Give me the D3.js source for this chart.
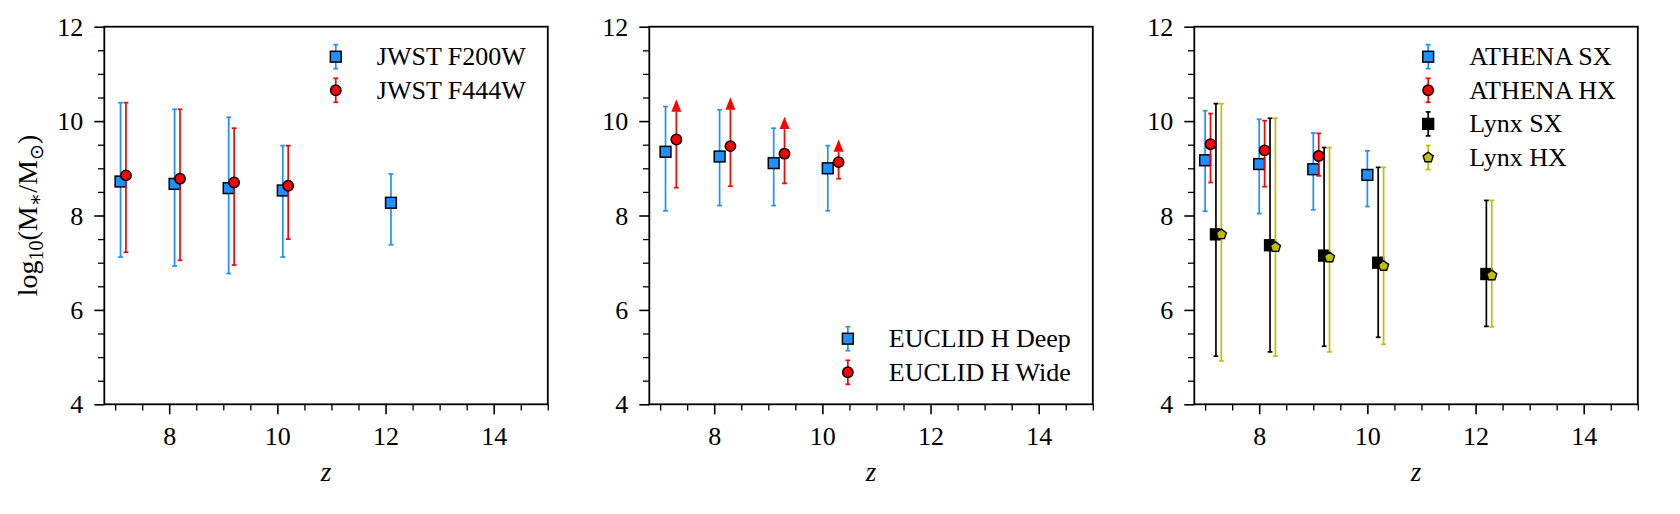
<!DOCTYPE html>
<html>
<head>
<meta charset="utf-8">
<script src="https://cdn.jsdelivr.net/npm/d3@7"></script>
<style>
  body { margin: 0; background: #fff; }
  svg { display: block; }
  text { font-family: "Liberation Serif", "DejaVu Serif", serif; fill: #000; }
</style>
</head>
<body>
<svg id="chart" width="1680" height="514"></svg>
<script>
// ---- data ----
// panel 1: JWST
const f200wZ  = [7.1, 8.1, 9.1, 10.1, 12.1];
const f200wM  = [8.72, 8.67, 8.58, 8.53, 8.27];
const f200wLo = [7.12, 6.93, 6.77, 7.12, 7.38];
const f200wHi = [10.39, 10.25, 10.08, 9.48, 8.88];

const f444wZ  = [7.2, 8.2, 9.2, 10.2];
const f444wM  = [8.85, 8.78, 8.70, 8.63];
const f444wLo = [7.22, 7.05, 6.95, 7.50];
const f444wHi = [10.39, 10.25, 9.85, 9.48];

// panel 2: EUCLID (wide points are lower limits)
const deepZ  = [7.1, 8.1, 9.1, 10.1];
const deepM  = [9.35, 9.25, 9.11, 9.00];
const deepLo = [8.10, 8.21, 8.21, 8.10];
const deepHi = [10.31, 10.24, 9.85, 9.48];

const wideZ  = [7.3, 8.3, 9.3, 10.3];
const wideM  = [9.61, 9.47, 9.31, 9.13];
const wideLo = [8.59, 8.62, 8.68, 8.78];
const wideHi = [10.20, 10.24, 9.83, 9.35];

// panel 3: ATHENA / Lynx
const athSxZ  = [7.0, 8.0, 9.0, 10.0];
const athSxM  = [9.17, 9.09, 8.98, 8.86];
const athSxLo = [8.09, 8.04, 8.12, 8.19];
const athSxHi = [10.22, 10.04, 9.75, 9.37];

const athHxZ  = [7.1, 8.1, 9.1];
const athHxM  = [9.51, 9.38, 9.26];
const athHxLo = [8.70, 8.61, 8.84];
const athHxHi = [10.16, 10.01, 9.74];

const lynxSxZ  = [7.2, 8.2, 9.2, 10.2, 12.2];
const lynxSxM  = [7.60, 7.37, 7.15, 7.00, 6.76];
const lynxSxLo = [5.02, 5.11, 5.23, 5.42, 5.65];
const lynxSxHi = [10.37, 10.06, 9.44, 9.02, 8.32];

const lynxHxZ  = [7.3, 8.3, 9.3, 10.3, 12.3];
const lynxHxM  = [7.60, 7.33, 7.11, 6.93, 6.73];
const lynxHxLo = [4.92, 5.02, 5.11, 5.27, 5.64];
const lynxHxHi = [10.37, 10.06, 9.44, 9.02, 8.32];

const xMajor = [8, 10, 12, 14];
const yMajor = [4, 6, 8, 10, 12];
const xLim = [6.8, 15];
const yLim = [4, 12];

// ---- layout ----
const BLUE = "#1e90ff", RED = "#ff0000", BLACK = "#000000", YEL = "#bfbf00";
const FS = 26;
const panelLefts = [104.3, 649.3, 1194.3];
const panelW = 443.5;
const plotTop = 26.7, plotBottom = 404.3;

function series(name, z, m, lo, hi, color, marker, lolim) {
  return { name, color, marker, lolim: !!lolim,
    pts: z.map((d, i) => ({ z: d, m: m[i], lo: lo[i], hi: hi[i] })) };
}

const panels = [
  { legend: "top", series: [
      series("JWST F200W", f200wZ, f200wM, f200wLo, f200wHi, BLUE, "square"),
      series("JWST F444W", f444wZ, f444wM, f444wLo, f444wHi, RED, "circle") ] },
  { legend: "bottom", series: [
      series("EUCLID H Deep", deepZ, deepM, deepLo, deepHi, BLUE, "square"),
      series("EUCLID H Wide", wideZ, wideM, wideLo, wideHi, RED, "circle", true) ] },
  { legend: "top", series: [
      series("ATHENA SX", athSxZ, athSxM, athSxLo, athSxHi, BLUE, "square"),
      series("ATHENA HX", athHxZ, athHxM, athHxLo, athHxHi, RED, "circle"),
      series("Lynx SX", lynxSxZ, lynxSxM, lynxSxLo, lynxSxHi, BLACK, "square"),
      series("Lynx HX", lynxHxZ, lynxHxM, lynxHxLo, lynxHxHi, YEL, "pentagon") ] }
];

const svg = d3.select("#chart");
svg.append("rect").attr("width", 1680).attr("height", 514).attr("fill", "#fff");

function drawMarker(g, type, cx, cy, color) {
  if (type === "square") {
    g.append("rect").attr("x", cx - 5.4).attr("y", cy - 5.4)
      .attr("width", 10.8).attr("height", 10.8)
      .attr("fill", color).attr("stroke", "#000").attr("stroke-width", 1.5);
  } else if (type === "circle") {
    g.append("circle").attr("cx", cx).attr("cy", cy).attr("r", 5.2)
      .attr("fill", color).attr("stroke", "#000").attr("stroke-width", 1.5);
  } else {
    const R = 5.3;
    const pts = d3.range(5).map(k => {
      const a = (-90 + k * 72) * Math.PI / 180;
      return [cx + R * Math.cos(a), cy + R * Math.sin(a)];
    });
    g.append("polygon").attr("points", pts.map(p => p.join(",")).join(" "))
      .attr("fill", color).attr("stroke", "#000").attr("stroke-width", 1.4);
  }
}

function drawBar(g, cx, y0, y1, color, capTop, capBottom) {
  g.append("line").attr("x1", cx).attr("x2", cx).attr("y1", y0).attr("y2", y1)
    .attr("stroke", color).attr("stroke-width", 1.7);
  const cap = y => g.append("line").attr("x1", cx - 2.4).attr("x2", cx + 2.4)
    .attr("y1", y).attr("y2", y).attr("stroke", color).attr("stroke-width", 1.7);
  if (capTop) cap(y0);
  if (capBottom) cap(y1);
}

panels.forEach((p, pi) => {
  const left = panelLefts[pi], right = left + panelW;
  const x = d3.scaleLinear().domain(xLim).range([left, right]);
  const y = d3.scaleLinear().domain(yLim).range([plotBottom, plotTop]);
  const g = svg.append("g");

  // minor ticks
  const xMinor = d3.range(7, 15.01, 0.5).filter(v => !xMajor.includes(v));
  const yMinor = d3.range(4.5, 12, 0.5).filter(v => !yMajor.includes(v));

  const xAxisMinor = g.append("g").attr("transform", `translate(0,${plotBottom})`)
    .call(d3.axisBottom(x).tickValues(xMinor).tickSize(6.3).tickFormat(""));
  const yAxisMinor = g.append("g").attr("transform", `translate(${left},0)`)
    .call(d3.axisLeft(y).tickValues(yMinor).tickSize(6.3).tickFormat(""));
  const xAxis = g.append("g").attr("transform", `translate(0,${plotBottom})`)
    .call(d3.axisBottom(x).tickValues(xMajor).tickSize(10).tickFormat(d3.format("d")));
  const yAxis = g.append("g").attr("transform", `translate(${left},0)`)
    .call(d3.axisLeft(y).tickValues(yMajor).tickSize(10).tickFormat(d3.format("d")));

  [xAxisMinor, yAxisMinor, xAxis, yAxis].forEach(a => a.select(".domain").remove());
  [xAxisMinor, yAxisMinor].forEach(a => a.selectAll("line").attr("stroke", "#000").attr("stroke-width", 1.3));
  [xAxis, yAxis].forEach(a => a.selectAll("line").attr("stroke", "#000").attr("stroke-width", 1.6));
  xAxis.selectAll("text").attr("y", 40.7).attr("dy", null)
    .attr("font-size", FS).attr("font-family", null).attr("fill", "#000");
  yAxis.selectAll("text").attr("x", -21).attr("dy", null).attr("y", 8.6)
    .attr("font-size", FS).attr("font-family", null).attr("fill", "#000");

  // data
  const dg = g.append("g");
  p.series.forEach(s => {
    s.pts.forEach(d => {
      const cx = x(d.z);
      drawBar(dg, cx, y(d.hi), y(d.lo), s.color, !s.lolim, true);
      if (s.lolim) {
        const yb = y(d.hi);
        dg.append("polygon")
          .attr("points", `${cx - 5},${yb} ${cx + 5},${yb} ${cx},${yb - 12.4}`)
          .attr("fill", s.color);
      }
    });
    s.pts.forEach(d => drawMarker(dg, s.marker, x(d.z), y(d.m), s.color));
  });

  // frame
  g.append("rect").attr("x", left).attr("y", plotTop).attr("width", panelW).attr("height", plotBottom - plotTop)
    .attr("fill", "none").attr("stroke", "#000").attr("stroke-width", 1.8);

  // x label
  g.append("text").attr("x", (left + right) / 2).attr("y", 481)
    .attr("text-anchor", "middle").attr("font-size", FS + 1).attr("font-style", "italic").text("z");

  // legend
  const lg = g.append("g");
  const n = p.series.length;
  const rowH = 33.6;
  const y0 = p.legend === "top" ? plotTop + 30 : plotBottom - 32 - (n - 1) * rowH;
  const texts = p.series.map((s, i) => lg.append("text")
    .attr("y", y0 + i * rowH + 8.5).attr("font-size", FS).text(s.name));
  const maxW = d3.max(texts, t => t.node().getComputedTextLength());
  const tx = right - 22 - maxW;
  const mx = tx - 41;
  texts.forEach(t => t.attr("x", tx));
  p.series.forEach((s, i) => {
    const cy = y0 + i * rowH;
    drawBar(lg, mx, cy - 12, cy + 12, s.color, true, true);
    drawMarker(lg, s.marker, mx, cy, s.color);
  });
});

// y label on first panel
const yl = svg.append("text")
  .attr("transform", `translate(36.5,${(plotTop + plotBottom) / 2}) rotate(-90)`)
  .attr("text-anchor", "middle").attr("font-size", 28);
yl.append("tspan").text("log");
yl.append("tspan").attr("dy", 6).attr("font-size", 20).text("10");
yl.append("tspan").attr("dy", -6).text("(M");
yl.append("tspan").attr("dy", 5).attr("font-size", 20).text("\u2217");
yl.append("tspan").attr("dy", -5).text("/M");
yl.append("tspan").attr("dy", 6).attr("font-size", 19).attr("font-family", "DejaVu Sans").text("\u2299");
yl.append("tspan").attr("dy", -6).text(")");
</script>
</body>
</html>
